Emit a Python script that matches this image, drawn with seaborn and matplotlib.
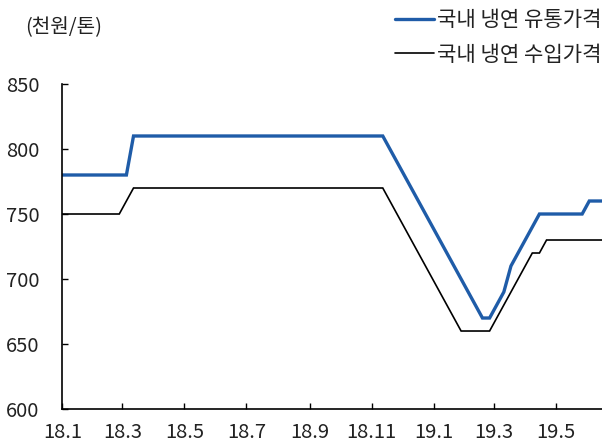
import numpy as np
import pandas as pd
import matplotlib
matplotlib.use("Agg")
import matplotlib.pyplot as plt
import matplotlib.dates as mdates
import seaborn as sns
from matplotlib.lines import Line2D

# ---- data (weekly, from 2018-01-01) ----
start_date = "2018-01-01"
n_weeks = 77
series_names = ["국내 냉연 유통가격", "국내 냉연 수입가격"]
distribution_price = (
    [780] * 10 + [810] * 36 +
    [800, 790, 780, 770, 760, 750, 740, 730, 720, 710, 700, 690, 680] +
    [670, 670] +
    [680, 690, 710, 720, 730, 740, 750] +
    [750] * 6 + [760] * 3
)
import_price = (
    [750] * 9 + [760, 770] + [770] * 35 +
    [760, 750, 740, 730, 720, 710, 700, 690, 680, 670] +
    [660] * 5 +
    [670, 680, 690, 700, 710, 720] + [720] +
    [730] * 9
)
tick_dates = ["2018-01-01", "2018-03-01", "2018-05-01", "2018-07-01", "2018-09-01",
              "2018-11-01", "2019-01-01", "2019-03-01", "2019-05-01"]
tick_labels = ["18.1", "18.3", "18.5", "18.7", "18.9", "18.11", "19.1", "19.3", "19.5"]
y_ticks = [600, 650, 700, 750, 800, 850]
unit_label = "(천원/톤)"

dates = pd.date_range(start_date, periods=n_weeks, freq="7D")
df = pd.concat([
    pd.DataFrame({"date": dates, "price": distribution_price, "series": series_names[0]}),
    pd.DataFrame({"date": dates, "price": import_price, "series": series_names[1]}),
])

sns.set_style("ticks")
plt.rcParams["font.family"] = ["Noto Sans CJK KR", "DejaVu Sans"]

BLUE = "#1F5CA8"
FS = 14.5
TXT = "#222222"

fig = plt.figure(figsize=(6.02, 4.43), dpi=100)
ax = fig.add_axes([0.1035, 0.0767, 0.8965, 0.7337])

sns.lineplot(data=df, x="date", y="price", hue="series", hue_order=series_names,
             palette=[BLUE, "#000000"], ax=ax, legend=False)
lines = ax.get_lines()
lines[0].set_linewidth(2.4)
lines[1].set_linewidth(1.2)
for ln in lines:
    ln.set_solid_joinstyle("miter")

ax.set_xlim(pd.Timestamp("2018-01-01"), pd.Timestamp("2019-06-15 12:00"))
ax.set_ylim(600, 850)
ax.set_yticks(y_ticks)
ax.set_xticks([pd.Timestamp(d) for d in tick_dates])
ax.set_xticklabels(tick_labels)
ax.set_xlabel("")
ax.set_ylabel("")
for s in ["top", "right"]:
    ax.spines[s].set_visible(False)
for s in ["left", "bottom"]:
    ax.spines[s].set_linewidth(1.2)
    ax.spines[s].set_color("black")
ax.tick_params(axis="both", direction="in", length=4, width=1, color="black",
               labelsize=FS, labelcolor=TXT)
ax.tick_params(axis="y", pad=16.5)
ax.tick_params(axis="x", pad=9)

fig.text(0.042, 0.937, unit_label, fontsize=FS, color=TXT, va="center", ha="left")

handles = [Line2D([], [], color=BLUE, lw=2.4), Line2D([], [], color="black", lw=1.2)]
fig.legend(handles, series_names, loc="upper left", bbox_to_anchor=(0.645, 0.993),
           frameon=False, fontsize=15.2, handlelength=1.85, handletextpad=0.15,
           labelspacing=0.58, borderpad=0.3, borderaxespad=0, labelcolor=TXT)

fig.savefig("out.png", dpi=100)
